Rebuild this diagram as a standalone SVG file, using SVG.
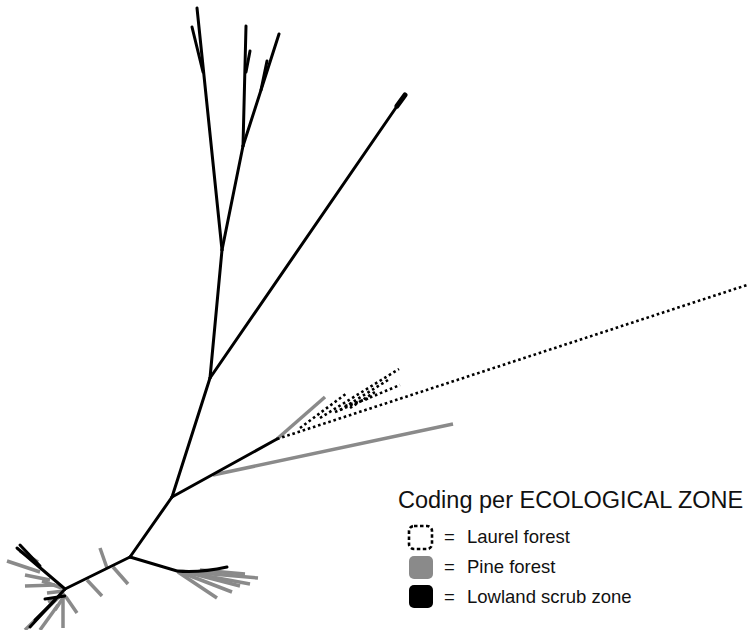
<svg xmlns="http://www.w3.org/2000/svg" width="747" height="630" viewBox="0 0 747 630">
<style>
.b{stroke:#000;stroke-width:3;fill:none;stroke-linecap:round}
.g{stroke:#8a8a8a;stroke-width:3.5;fill:none;stroke-linecap:butt}
.d{stroke:#000;stroke-width:2.6;fill:none;stroke-dasharray:2.6 2.8}
.t{font-family:"Liberation Sans",Arial,sans-serif;fill:#111}
.l{font-family:"Liberation Sans",Arial,sans-serif;fill:#111;font-size:18.5px}
</style>
<rect width="747" height="630" fill="#fff"/>
<g id="connectors">
  <g class="g">
    <line x1="213" y1="475" x2="453" y2="424"/>
    <line x1="277" y1="439" x2="325" y2="397"/>
    <line x1="177" y1="571" x2="258" y2="578"/>
    <line x1="185" y1="572" x2="250" y2="584"/>
    <line x1="190" y1="573" x2="240" y2="586"/>
    <line x1="180" y1="572" x2="232" y2="592"/>
    <line x1="178" y1="572" x2="217" y2="598"/>
    <line x1="200" y1="570" x2="245" y2="574"/>
    <line x1="100" y1="548" x2="107" y2="568"/>
    <line x1="113" y1="567" x2="128" y2="584"/>
    <line x1="87" y1="580" x2="102" y2="596"/>
    <line x1="7" y1="561" x2="40" y2="572"/>
    <line x1="20" y1="551" x2="38" y2="562"/>
    <line x1="25" y1="575" x2="50" y2="580"/>
    <line x1="25" y1="586" x2="55" y2="585"/>
    <line x1="42" y1="581" x2="62" y2="588"/>
    <line x1="47" y1="593" x2="64" y2="591"/>
    <line x1="48" y1="602" x2="65" y2="594"/>
    <line x1="55" y1="610" x2="65" y2="595"/>
    <line x1="62" y1="594" x2="25" y2="630"/>
    <line x1="63" y1="598" x2="63" y2="628"/>
    <line x1="66" y1="597" x2="77" y2="613"/>
    <line x1="58" y1="605" x2="40" y2="630"/>
  </g>
  <g class="d">
    <line x1="277" y1="439" x2="747" y2="285"/>
    <line x1="300" y1="428" x2="347" y2="393"/>
    <line x1="320" y1="418" x2="399" y2="369"/>
    <line x1="335" y1="412" x2="400" y2="385"/>
    <line x1="340" y1="410" x2="388" y2="380"/>
    <line x1="350" y1="408" x2="375" y2="392"/>
    <line x1="345" y1="406" x2="370" y2="398"/>
  </g>
  <g class="b">
    <line x1="130" y1="557" x2="172" y2="497"/>
    <line x1="172" y1="497" x2="210" y2="378"/>
    <line x1="210" y1="378" x2="222" y2="250"/>
    <line x1="222" y1="250" x2="197" y2="8"/>
    <line x1="203" y1="72" x2="192" y2="27"/>
    <line x1="222" y1="250" x2="243" y2="146"/>
    <line x1="243" y1="146" x2="246" y2="26"/>
    <line x1="243" y1="146" x2="279" y2="34"/>
    <line x1="246" y1="72" x2="250" y2="51"/>
    <line x1="261" y1="90" x2="267" y2="61"/>
    <line x1="210" y1="378" x2="404" y2="96"/>
    <line x1="172" y1="497" x2="277" y2="439"/>
    <path d="M130 557 L177 571 Q200 573 227 567"/>
    <line x1="130" y1="557" x2="65" y2="589"/>
    <line x1="65" y1="589" x2="17" y2="548"/>
    <line x1="65" y1="589" x2="30" y2="627"/>
    <line x1="20" y1="545" x2="40" y2="566"/>
    <line x1="45" y1="599" x2="65" y2="596"/>
    <line x1="35" y1="620" x2="55" y2="600"/>
  </g>
  <line x1="397" y1="106" x2="405" y2="95" stroke="#000" stroke-width="5" stroke-linecap="round"/>
</g>
<g id="legend">
  <text class="t" x="398" y="508" font-size="23.5">Coding per ECOLOGICAL ZONE</text>
  <g id="legend-laurel">
    <rect x="409" y="526" width="23" height="23" rx="5" fill="none" stroke="#000" stroke-width="2.6" stroke-dasharray="3.5 2.5"/>
    <text class="l" x="444" y="543">=</text>
    <text class="l" x="467" y="543">Laurel forest</text>
  </g>
  <g id="legend-pine">
    <rect x="409" y="556" width="24" height="23" rx="5" fill="#8a8a8a"/>
    <text class="l" x="444" y="573">=</text>
    <text class="l" x="467" y="573">Pine forest</text>
  </g>
  <g id="legend-lowland">
    <rect x="409" y="585" width="24" height="23" rx="5" fill="#000"/>
    <text class="l" x="444" y="603">=</text>
    <text class="l" x="467" y="603">Lowland scrub zone</text>
  </g>
</g>
</svg>
